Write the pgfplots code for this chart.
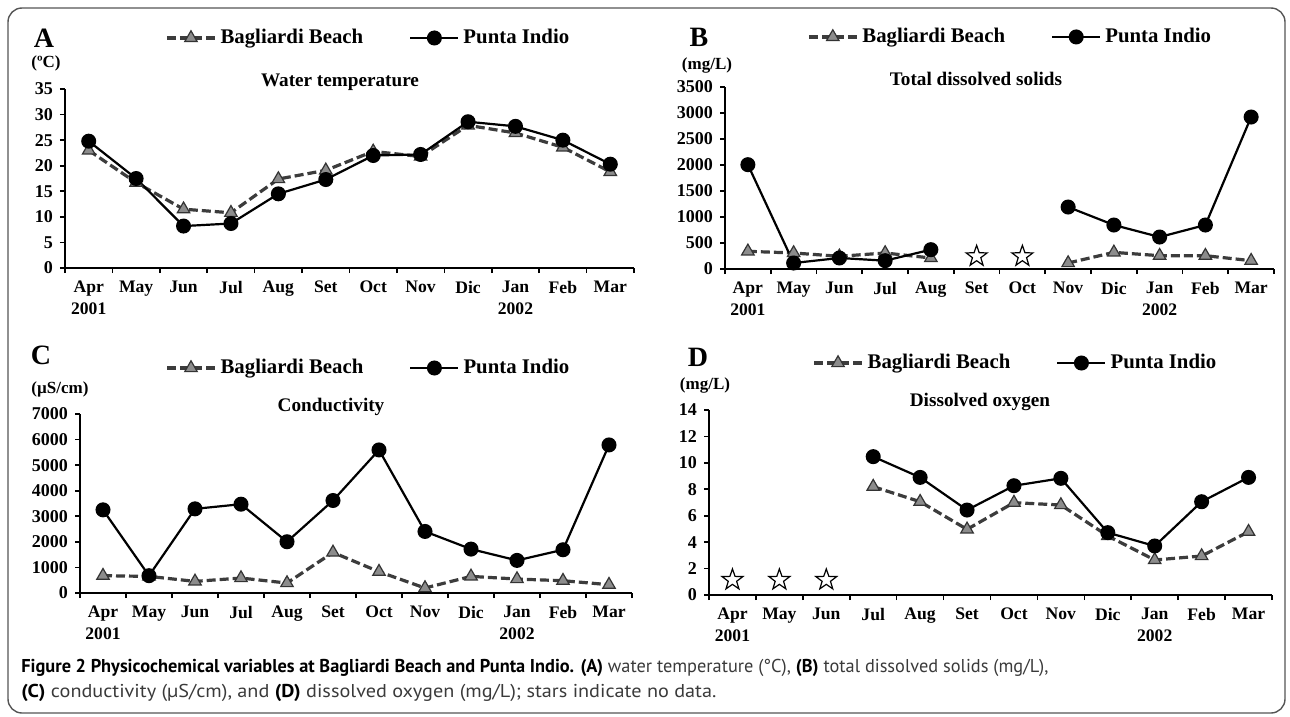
\documentclass[border=0pt]{standalone}
\usepackage{pgfplots}
\pgfplotsset{compat=1.18}
\usepackage{fontspec}
\setmainfont{Liberation Serif}
\newfontfamily\capfont{PT Sans}
\usepackage{graphicx}
\definecolor{bbline}{HTML}{3C3C3C}
\definecolor{bbfill}{HTML}{8C8C8C}
\definecolor{capgray}{HTML}{3A3A3A}
\definecolor{framegray}{HTML}{555555}

\pgfdeclareplotmark{ostar}{%
  \pgfpathmoveto{\pgfpointpolar{90}{\pgfplotmarksize}}%
  \pgfpathlineto{\pgfpointpolar{126}{0.4\pgfplotmarksize}}%
  \pgfpathlineto{\pgfpointpolar{162}{\pgfplotmarksize}}%
  \pgfpathlineto{\pgfpointpolar{198}{0.4\pgfplotmarksize}}%
  \pgfpathlineto{\pgfpointpolar{234}{\pgfplotmarksize}}%
  \pgfpathlineto{\pgfpointpolar{270}{0.4\pgfplotmarksize}}%
  \pgfpathlineto{\pgfpointpolar{306}{\pgfplotmarksize}}%
  \pgfpathlineto{\pgfpointpolar{342}{0.4\pgfplotmarksize}}%
  \pgfpathlineto{\pgfpointpolar{18}{\pgfplotmarksize}}%
  \pgfpathlineto{\pgfpointpolar{54}{0.4\pgfplotmarksize}}%
  \pgfpathclose
  \pgfusepathqfillstroke}

\pgfplotsset{
  panel/.style={
    scale only axis,
    axis x line=bottom, axis y line=left,
    axis line style={-, line width=1pt, black},
    xmin=-0.5, xmax=11.5, ymin=0,
    xtick={-0.5,0.5,...,11.5}, xticklabels={},
    extra x ticks={0,...,11},
    extra x tick labels={{Apr\\2001},May,Jun,Jul,Aug,Set,Oct,Nov,Dic,{Jan\\2002},Feb,Mar},
    extra x tick style={major tick length=0pt},
    tick align=outside, major tick length=2.5pt,
    tick style={line width=0.8pt, black},
    x tick label style={font=\fontsize{8.8}{11}\selectfont\bfseries, align=center, anchor=north, yshift=-3pt},
    y tick label style={font=\fontsize{9}{10}\selectfont\bfseries},
    /pgf/number format/assume math mode=true,
    /pgf/number format/set thousands separator={},
    legend columns=2,
    legend style={draw=none, fill=none, inner sep=0pt, anchor=west,
      font=\fontsize{10.4}{12}\selectfont\bfseries,
      /tikz/every even column/.append style={column sep=21pt}},
    legend image code/.code={\draw[mark repeat=2,mark phase=2,##1] plot coordinates {(0pt,0pt) (12pt,0pt) (24pt,0pt)};},
    unbounded coords=jump,
    clip=false,
  },
  bb/.style={bbline, line width=1.6pt, dash pattern=on 4.5pt off 2pt,
    mark=triangle*, mark size=3.6pt,
    mark options={solid, fill=bbfill, draw=black!80, line width=0.6pt}},
  pi/.style={black, line width=1.1pt, mark=*, mark size=3.2pt,
    mark options={solid, fill=black}},
  nodata/.style={only marks, mark=ostar, mark size=5.5pt,
    mark options={solid, fill=white, draw=black, line width=0.6pt}},
}

\begin{document}
\begin{tikzpicture}
\path[use as bounding box] (0pt,0pt) rectangle (645pt,-358.5pt);
\draw[framegray, line width=0.7pt, rounded corners=7pt] (4pt,-4pt) rectangle (642.5pt,-356.5pt);

% ---------------- Panel A
\begin{axis}[panel, at={(32.5pt,-134pt)}, anchor=south west,
  width=284.5pt, height=89.5pt, ymax=35, ytick={0,5,...,35},
  legend style={at={(0.1757,1.285)}}]
\addplot[bb] coordinates {(0,23.0)(1,16.7)(2,11.5)(3,10.8)(4,17.4)(5,19.1)(6,22.8)(7,21.8)(8,27.9)(9,26.4)(10,23.6)(11,18.8)};
\addlegendentry{Bagliardi Beach}
\addplot[pi] coordinates {(0,24.8)(1,17.5)(2,8.2)(3,8.7)(4,14.5)(5,17.3)(6,22.0)(7,22.2)(8,28.6)(9,27.7)(10,25.0)(11,20.3)};
\addlegendentry{Punta Indio}
\end{axis}
\node[font=\fontsize{14}{16}\selectfont\bfseries] at (22pt,-19pt) {A};
\node[font=\fontsize{8.5}{10}\selectfont\bfseries] at (23pt,-31.5pt) {(ºC)};
\node[font=\fontsize{9.6}{11}\selectfont\bfseries] at (170pt,-41pt) {Water temperature};

% ---------------- Panel B
\begin{axis}[panel, at={(362.5pt,-134.5pt)}, anchor=south west,
  width=274.5pt, height=91pt, ymax=3500, ytick={0,500,...,3500},
  legend style={at={(0.149,1.275)}}]
\addplot[bb] coordinates {(0,340)(1,308)(2,244)(3,308)(4,212)(5,nan)(6,nan)(7,115)(8,320)(9,256)(10,256)(11,160)};
\addlegendentry{Bagliardi Beach}
\addplot[pi] coordinates {(0,2006)(1,115)(2,212)(3,160)(4,372)(5,nan)(6,nan)(7,1192)(8,846)(9,615)(10,846)(11,2923)};
\addlegendentry{Punta Indio}
\addplot[nodata, forget plot] coordinates {(5,244)(6,244)};
\end{axis}
\node[font=\fontsize{14}{16}\selectfont\bfseries] at (349.5pt,-18.5pt) {B};
\node[font=\fontsize{8.5}{10}\selectfont\bfseries] at (353.5pt,-32.5pt) {(mg/L)};
\node[font=\fontsize{9.6}{11}\selectfont\bfseries] at (488pt,-39.5pt) {Total dissolved solids};

% ---------------- Panel C
\begin{axis}[panel, at={(40pt,-296.5pt)}, anchor=south west,
  width=276pt, height=89.5pt, ymax=7000, ytick={0,1000,...,7000},
  legend style={at={(0.154,1.257)}}]
\addplot[bb] coordinates {(0,677)(1,650)(2,455)(3,585)(4,390)(5,1587)(6,833)(7,195)(8,650)(9,546)(10,481)(11,325)};
\addlegendentry{Bagliardi Beach}
\addplot[pi] coordinates {(0,3252)(1,677)(2,3291)(3,3473)(4,2004)(5,3617)(6,5595)(7,2407)(8,1717)(9,1275)(10,1691)(11,5790)};
\addlegendentry{Punta Indio}
\end{axis}
\node[font=\fontsize{14}{16}\selectfont\bfseries] at (20.5pt,-177.5pt) {C};
\node[font=\fontsize{8.5}{10}\selectfont\bfseries] at (30pt,-194.5pt) {(µS/cm)};
\node[font=\fontsize{9.6}{11}\selectfont\bfseries] at (165.5pt,-203.5pt) {Conductivity};

% ---------------- Panel D
\begin{axis}[panel, at={(354.5pt,-297.5pt)}, anchor=south west,
  width=281.5pt, height=92.5pt, ymax=14, ytick={0,2,...,14},
  legend style={at={(0.183,1.254)}}]
\addplot[bb] coordinates {(3,8.2)(4,7.06)(5,4.97)(6,6.99)(7,6.81)(8,4.47)(9,2.65)(10,2.95)(11,4.79)};
\addlegendentry{Bagliardi Beach}
\addplot[pi] coordinates {(3,10.47)(4,8.9)(5,6.43)(6,8.27)(7,8.83)(8,4.72)(9,3.71)(10,7.06)(11,8.9)};
\addlegendentry{Punta Indio}
\addplot[nodata, forget plot] coordinates {(0,1.14)(1,1.14)(2,1.14)};
\end{axis}
\node[font=\fontsize{14}{16}\selectfont\bfseries] at (349pt,-178.5pt) {D};
\node[font=\fontsize{8.5}{10}\selectfont\bfseries] at (352.5pt,-192.5pt) {(mg/L)};
\node[font=\fontsize{9.6}{11}\selectfont\bfseries] at (490pt,-201pt) {Dissolved oxygen};

% ---------------- Caption
\node[anchor=west, inner sep=0pt] at (10.5pt,-334pt) {\resizebox{513.5pt}{\height}{\capfont\fontsize{9.3}{11}\selectfont\color{black}\textbf{Figure 2 Physicochemical variables at Bagliardi Beach and Punta Indio.} \textbf{(A)} {\color{capgray}water temperature (°C),} \textbf{(B)} {\color{capgray}total dissolved solids (mg/L),}}};
\node[anchor=west, inner sep=0pt] at (10.5pt,-346.5pt) {\resizebox{347.5pt}{\height}{\capfont\fontsize{9.3}{11}\selectfont\color{black}\textbf{(C)} {\color{capgray}conductivity (µS/cm), and} \textbf{(D)} {\color{capgray}dissolved oxygen (mg/L); stars indicate no data.}}};
\end{tikzpicture}
\end{document}
